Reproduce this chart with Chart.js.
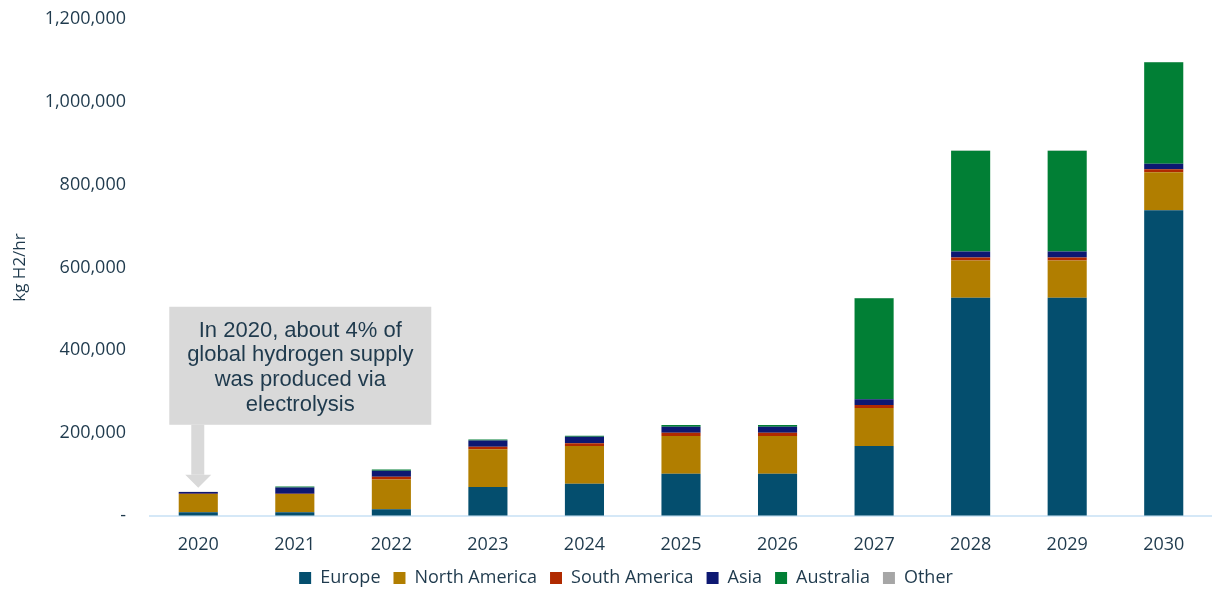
<!DOCTYPE html>
<html lang="en">
<head>
<meta charset="UTF-8">
<title>Electrolyzer capacity</title>
<script src="https://cdn.jsdelivr.net/npm/chart.js"></script>
<style>
    html, body { margin: 0; padding: 0; background: #fff; overflow: hidden; }
    .chart-container { position: relative; width: 1212px; height: 597px; }
</style>
</head>
<body>
<div class="chart-container">
    <canvas id="myChart"></canvas>
</div>
<script>
// values (kg H2/hr)
const years = ['2020', '2021', '2022', '2023', '2024', '2025', '2026', '2027', '2028', '2029', '2030'];
const europe       = [9000, 9000, 16000, 70000, 78000, 102000, 102000, 169000, 527000, 527000, 738000];
const northAmerica = [44000, 44000, 72000, 91000, 91000, 91000, 91000, 92000, 90000, 90000, 92000];
const southAmerica = [1000, 1000, 7000, 6500, 6500, 8000, 8000, 7000, 7000, 7000, 7000];
const asia         = [4000, 15000, 14500, 15000, 16000, 14500, 14500, 13800, 14500, 14500, 13800];
const australia    = [0, 2000, 2500, 2000, 2000, 4000, 4000, 244000, 243500, 243500, 245000];
const other        = [500, 500, 500, 500, 500, 500, 500, 500, 500, 500, 500];
const yTicks = [0, 200000, 400000, 600000, 800000, 1000000, 1200000];
const calloutLines = ['In 2020, about 4% of', 'global hydrogen supply', 'was produced via', 'electrolysis'];

const textColor = '#1f3a4d';
const fontFamily = '"Open Sans", sans-serif';

// grey call-out box with a down arrow pointing at the 2020 bar
const calloutPlugin = {
    id: 'callout',
    afterDatasetsDraw(chart) {
        const ctx = chart.ctx;
        const xs = chart.scales.x;
        const ys = chart.scales.y;
        const total = europe[0] + northAmerica[0] + southAmerica[0] + asia[0] + australia[0] + other[0];
        const cx = xs.getPixelForValue(0);
        const tipY = ys.getPixelForValue(total) - 4;
        const boxLeft = cx - 29;
        const boxW = 262;
        const boxH = 118;
        const boxBottom = tipY - 63;
        const boxTop = boxBottom - boxH;

        ctx.save();
        ctx.fillStyle = '#d9d9d9';
        ctx.fillRect(boxLeft, boxTop, boxW, boxH);
        // arrow stem + head
        ctx.fillRect(cx - 7, boxBottom, 13, tipY - 13 - boxBottom);
        ctx.beginPath();
        ctx.moveTo(cx - 13, tipY - 13);
        ctx.lineTo(cx + 13, tipY - 13);
        ctx.lineTo(cx, tipY);
        ctx.closePath();
        ctx.fill();

        ctx.fillStyle = textColor;
        ctx.font = '22px "Liberation Sans", Arial, sans-serif';
        ctx.textAlign = 'center';
        ctx.textBaseline = 'middle';
        calloutLines.forEach((line, i) => {
            ctx.fillText(line, boxLeft + boxW / 2, boxTop + 24 + i * 24.6);
        });
        ctx.restore();
    }
};

// legend in the original sits a little right of the canvas centre
const legendShift = {
    id: 'legendShift',
    afterLayout(chart) {
        chart.legend.left += 20;
        chart.legend.right += 20;
    }
};

function makeSet(label, data, color) {
    return {
        label: label,
        data: data,
        backgroundColor: color,
        borderWidth: 0,
        barPercentage: 0.405,
        categoryPercentage: 1.0,
    };
}

const ctx = document.getElementById('myChart').getContext('2d');
const chart = new Chart(ctx, {
    type: 'bar',
    data: {
        labels: years,
        datasets: [
            makeSet('Europe', europe, '#044e6e'),
            makeSet('North America', northAmerica, '#b17e00'),
            makeSet('South America', southAmerica, '#b02a00'),
            makeSet('Asia', asia, '#0d1872'),
            makeSet('Australia', australia, '#017f35'),
            makeSet('Other', other, '#a6a6a6'),
        ],
    },
    options: {
        responsive: true,
        maintainAspectRatio: false,
        animation: false,
        layout: { padding: { top: 19, right: 0, left: 0, bottom: 0 } },
        plugins: {
            tooltip: { enabled: false },
            legend: {
                position: 'bottom',
                labels: {
                    boxWidth: 12,
                    boxHeight: 12,
                    padding: 13,
                    color: textColor,
                    font: { family: fontFamily, size: 18 },
                },
            },
        },
        scales: {
            x: {
                stacked: true,
                afterFit(axis) {
                    axis.height = 40;
                },
                grid: { display: false, drawTicks: false },
                border: { display: true, color: '#d5e8f7', width: 2 },
                ticks: {
                    color: textColor,
                    font: { family: fontFamily, size: 18 },
                    padding: 18,
                },
            },
            y: {
                stacked: true,
                min: 0,
                max: 1200000,
                afterBuildTicks(axis) {
                    axis.ticks = yTicks.map(v => ({ value: v }));
                },
                afterFit(axis) {
                    axis.width = 150;
                },
                grid: { display: true, drawOnChartArea: false, drawTicks: true, tickLength: 24, color: 'transparent' },
                border: { display: false },
                ticks: {
                    color: textColor,
                    font: { family: fontFamily, size: 18 },
                    padding: 0,
                    callback: v => (v === 0 ? '-' : v.toLocaleString('en-US')),
                },
                title: {
                    display: true,
                    text: 'kg H2/hr',
                    color: textColor,
                    font: { family: fontFamily, size: 17 },
                    padding: { top: 10, bottom: 4 },
                },
            },
        },
    },
    plugins: [calloutPlugin, legendShift],
});
</script>
</body>
</html>
